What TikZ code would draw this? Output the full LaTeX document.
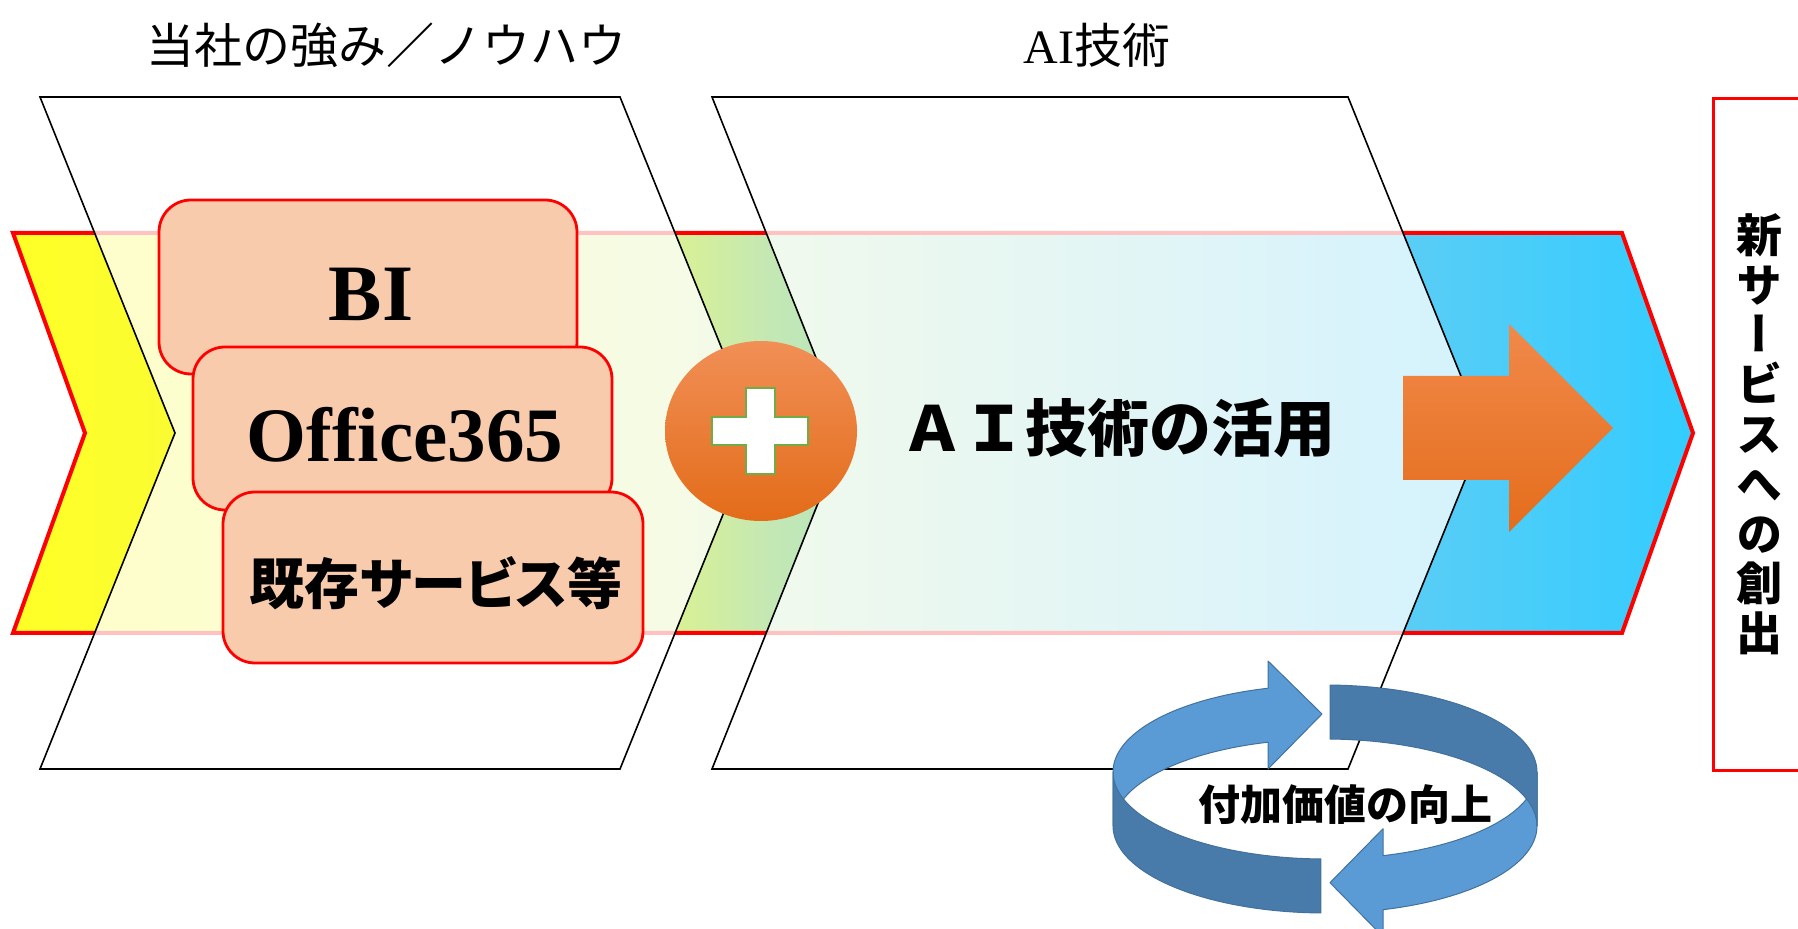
\documentclass[tikz,border=0pt]{standalone}
\usepackage{fontspec}
\setmainfont{Liberation Serif}
\newfontfamily\cjk{Noto Sans CJK JP}
\newfontfamily\cjkp{Noto Sans CJK JP}[RawFeature=+palt]
\newfontfamily\cjkv{Noto Sans CJK JP}[RawFeature=+vert]
\usetikzlibrary{shapes.geometric}
\definecolor{cY}{RGB}{255,255,38}
\definecolor{cYb}{RGB}{250,252,50}
\definecolor{cGa}{RGB}{216,240,150}
\definecolor{cGb}{RGB}{196,232,180}
\definecolor{cCa}{RGB}{90,205,245}
\definecolor{cCb}{RGB}{51,204,255}
\definecolor{peach}{RGB}{248,203,173}
\definecolor{ringL}{RGB}{91,155,213}
\definecolor{ringD}{RGB}{73,123,170}
\definecolor{ringE}{RGB}{65,113,156}
\definecolor{orT}{RGB}{241,143,86}
\definecolor{orB}{RGB}{227,108,25}
\definecolor{arT}{RGB}{241,137,74}
\definecolor{arB}{RGB}{228,109,28}
\definecolor{plusG}{RGB}{112,173,71}
\pgfdeclarehorizontalshading{chevshade}{100bp}{color(0bp)=(cY); color(25bp)=(cY); color(29.8bp)=(cYb); color(44.85bp)=(cGa); color(47.5bp)=(cGb); color(66.3bp)=(cCa); color(75bp)=(cCb); color(100bp)=(cCb)}
\begin{document}
\begin{tikzpicture}[x=0.5pt,y=-0.5pt,
  panel/.style={fill=white, fill opacity=0.76, draw=black, draw opacity=1, line width=0.8pt, line join=miter},
  skbox/.style={draw=red, line width=1.4pt, fill=peach, rounded corners=16pt, inner sep=0pt},
  ringpart/.style={draw=ringE, line width=0.5pt, line join=round},
  lbl/.style={inner sep=0pt}
]
\useasboundingbox (0,0) rectangle (1798,929);
% main chevron
\shadedraw[shading=chevshade, draw=red, line width=2pt, line join=miter]
  (13,233) -- (1622,233) -- (1693,433) -- (1622,633) -- (13,633) -- (85,433) -- cycle;
% two frames
\path[panel] (40,97) -- (620,97) -- (756,433) -- (620,769) -- (40,769) -- (175,433) -- cycle;
\path[panel] (712,97) -- (1348,97) -- (1484,433) -- (1348,769) -- (712,769) -- (846,433) -- cycle;
% boxes
\node[skbox, minimum width=209pt, minimum height=87pt] (bi) at (368,287) {};
\node[lbl, font=\bfseries\fontsize{40}{40}\selectfont] (bitxt) at (371,294) {BI};
\node[skbox, minimum width=209.5pt, minimum height=81.5pt] (off) at (402.5,428.5) {};
\node[lbl, font=\bfseries\fontsize{38.5}{38.5}\selectfont] (offtxt) at (405,435) {Office365};
\node[skbox, minimum width=210pt, minimum height=85.5pt] (kizon) at (433,577.5) {};
\node[lbl, font=\cjkp\bfseries\fontsize{27.5}{27.5}\selectfont] (kizontxt) at (436,583) {既存サービス等};
% plus circle
\node[ellipse, minimum width=96pt, minimum height=90pt, inner sep=0pt, top color=orT, bottom color=orB] (plusc) at (761,431) {};
\filldraw[fill=white, draw=plusG, line width=1.2pt]
  (746,388) -- (775,388) -- (775,417) -- (808,417) -- (808,445) -- (775,445) -- (775,474) -- (746,474) -- (746,445) -- (712,445) -- (712,417) -- (746,417) -- cycle;
% AI text
\node[lbl, font=\cjk\bfseries\fontsize{31}{31}\selectfont] (aitxt) at (1118,428) {ＡＩ技術の活用};
% orange arrow
\path[top color=arT, bottom color=arB]
  (1403,376) -- (1509,376) -- (1509,324) -- (1613,428) -- (1509,532) -- (1509,480) -- (1403,480) -- cycle;
% ring
\filldraw[ringpart, fill=ringL]
  plot[domain=180:254.4, samples=40, variable=\t] ({1325+212*cos(\t)},{772+87*sin(\t)})
  -- (1268,661) -- (1322,714) -- (1268,769) -- (1268,742.2)
  -- plot[domain=254.4:180, samples=40, variable=\t] ({1325+212*cos(\t)},{826+87*sin(\t)})
  -- cycle;
\filldraw[ringpart, fill=ringD]
  plot[domain=180:91.1, samples=40, variable=\t] ({1325+212*cos(\t)},{772+87*sin(\t)})
  -- plot[domain=91.1:180, samples=40, variable=\t] ({1325+212*cos(\t)},{826+87*sin(\t)})
  -- cycle;
\filldraw[ringpart, fill=ringL]
  plot[domain=0:74.1, samples=40, variable=\t] ({1325+212*cos(\t)},{772+87*sin(\t)})
  -- (1383,828.7) -- (1330,882.7) -- (1383,936.7) -- (1383,909.7)
  -- plot[domain=74.1:0, samples=40, variable=\t] ({1325+212*cos(\t)},{826+87*sin(\t)})
  -- cycle;
\filldraw[ringpart, fill=ringD]
  plot[domain=271.4:360, samples=40, variable=\t] ({1325+212*cos(\t)},{772+87*sin(\t)})
  -- plot[domain=360:271.4, samples=40, variable=\t] ({1325+212*cos(\t)},{826+87*sin(\t)})
  -- cycle;
\node[lbl, font=\cjk\bfseries\fontsize{21}{21}\selectfont] (ringtxt) at (1345,805) {付加価値の向上};
% right box
\draw[red, line width=1.5pt, fill=white] (1713,99) rectangle (1830,770);
\node[lbl, anchor=north, align=center, font=\cjkv\bfseries\fontsize{23}{24.9}\selectfont] (vtxt) at (1759.5,213)
  {新\\サ\\ー\\ビ\\ス\\へ\\の\\創\\出};
% titles
\node[lbl, font=\cjk\fontsize{24}{24}\selectfont] (t1) at (386,45) {当社の強み／ノウハウ};
\node[lbl, anchor=west, font=\fontsize{24}{24}\selectfont] (t2) at (1023,45) {AI{\cjk 技術}};
\end{tikzpicture}
\end{document}
